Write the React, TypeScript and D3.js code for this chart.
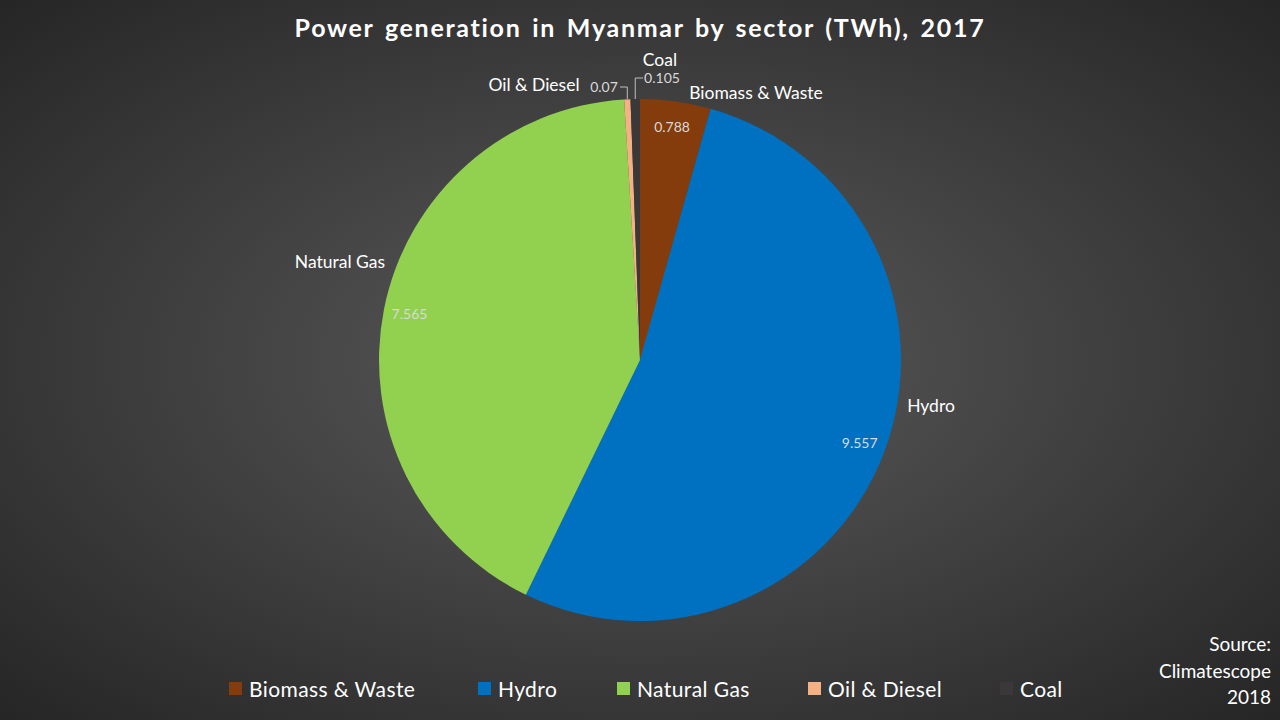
import React from "react";
import * as d3 from "d3";

const categories = ["Biomass & Waste", "Hydro", "Natural Gas", "Oil & Diesel", "Coal"];
const values = [0.788, 9.557, 7.565, 0.07, 0.105];
const valueLabels = ["0.788", "9.557", "7.565", "0.07", "0.105"];
const colors = ["#843c0c", "#0070c0", "#92d050", "#f4b183", "#3a3838"];

const W = 1280, H = 720;
const cx = 640, cy = 360, R = 261;
const FONT = "Lato, 'Open Sans', sans-serif";

// label layout (category name position, value position, for small slices)
const catPos: [number, number, string][] = [
  [756, 99, "middle"],
  [931, 412, "middle"],
  [340, 268, "middle"],
  [534, 91, "middle"],
  [660, 66, "middle"],
];
const smallValPos: Record<number, [number, number, string]> = {
  3: [604, 92, "middle"],
  4: [662, 83, "middle"],
};

export default function App() {
  const data = categories.map((c, i) => ({ c, v: values[i], i }));
  const pie = d3.pie<any>().value((d) => d.v).sort(null);
  const arcs = pie(data);
  const arc = d3.arc<any>().innerRadius(0).outerRadius(R);
  const labelArc = d3.arc<any>().innerRadius(235).outerRadius(235);
  const edgeArc = d3.arc<any>().innerRadius(R).outerRadius(R);

  const legendX = [229, 478, 617, 808, 1000];

  return (
    <svg width={W} height={H} style={{ display: "block", position: "absolute", left: 0, top: 0 }}>
      <defs>
        <radialGradient id="bg" cx="50%" cy="50%" r="70%">
          <stop offset="0%" stopColor="#5b5b5b" />
          <stop offset="100%" stopColor="#262626" />
        </radialGradient>
      </defs>
      <rect width={W} height={H} fill="url(#bg)" />
      <text x={640} y={37} textAnchor="middle" fill="#ffffff" fontFamily={FONT} fontWeight="bold" fontSize={25} letterSpacing={1.7} wordSpacing={3}>
        Power generation in Myanmar by sector (TWh), 2017
      </text>
      <g transform={`translate(${cx},${cy})`}>
        {arcs.map((a, i) => (
          <path key={i} d={arc(a) as string} fill={colors[i]} />
        ))}
        {arcs.map((a, i) => {
          if (i >= 3) return null;
          const [x, y] = labelArc.centroid(a);
          return (
            <text key={"v" + i} x={x} y={y + 5} textAnchor="middle" fill="#d9d9d9" fontFamily={FONT} fontSize={14}>
              {valueLabels[i]}
            </text>
          );
        })}
        {arcs.map((a, i) => {
          if (i < 3) return null;
          const [ex, ey] = edgeArc.centroid(a);
          const [vx, vy] = smallValPos[i];
          const lx = i === 3 ? vx + 16 : vx - 19;
          const ly = vy - 5;
          return (
            <path key={"l" + i} d={`M${lx - cx},${ly - cy}H${ex}V${ey}`} fill="none" stroke="#bfbfbf" strokeWidth={1} />
          );
        })}
      </g>
      {categories.map((c, i) => (
        <text key={"c" + i} x={catPos[i][0]} y={catPos[i][1]} textAnchor={catPos[i][2] as any} fill="#ffffff" fontFamily={FONT} fontSize={17.5}>
          {c}
        </text>
      ))}
      {[3, 4].map((i) => (
        <text key={"s" + i} x={smallValPos[i][0]} y={smallValPos[i][1]} textAnchor="middle" fill="#d9d9d9" fontFamily={FONT} fontSize={14}>
          {valueLabels[i]}
        </text>
      ))}
      {categories.map((c, i) => (
        <g key={"lg" + i} transform={`translate(${legendX[i]},689)`}>
          <rect x={0} y={-7} width={13} height={13} fill={colors[i]} />
          <text x={20} y={7.5} fill="#ffffff" fontFamily={FONT} fontSize={21} letterSpacing={0.4}>{c}</text>
        </g>
      ))}
      {["Source:", "Climatescope", "2018"].map((t, i) => (
        <text key={"src" + i} x={1271} y={651 + i * 26.5} textAnchor="end" fill="#ffffff" fontFamily={FONT} fontSize={19}>
          {t}
        </text>
      ))}
    </svg>
  );
}
